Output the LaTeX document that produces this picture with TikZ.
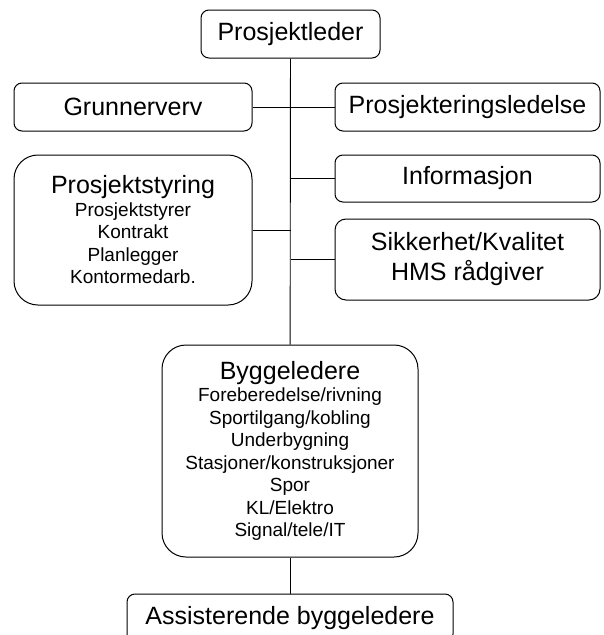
\documentclass[tikz,border=0pt]{standalone}
\usepackage{fontspec}
\setmainfont{Liberation Sans}
\usepackage{tikz}
\usetikzlibrary{positioning}
\newcommand{\bigtxt}{\fontsize{25}{30}\selectfont}
\newcommand{\smalltxt}{\fontsize{19}{22.5}\selectfont}

\begin{document}
\begin{tikzpicture}[x=1pt, y=-1pt,
box/.style={draw, line width=1pt, rounded corners=8pt, align=center,
font=\bigtxt, inner sep=0pt, minimum height=48pt},
bigbox/.style={box, rounded corners=24pt, font=\smalltxt},
line/.style={draw, line width=0.9pt}]
\useasboundingbox (0,0) rectangle (604,635);
\node [box, minimum width=179pt] (leder) at (290.5,34) {Prosjektleder};
\node [box, minimum width=238pt] (grunn) at (133,107) {Grunnerverv};
\node [box, minimum width=265pt] (prosj) at (467.5,107) {Prosjekteringsledelse};
\node [bigbox, minimum width=238pt, minimum height=150pt] (styr) at (133,230)
{{\bigtxt Prosjektstyring}\\ Prosjektstyrer\\ Kontrakt\\ Planlegger\\ Kontormedarb.};
\node [box, minimum width=265pt, minimum height=47pt] (info) at (467.5,178.5) {Informasjon};
\node [box, rounded corners=11pt, minimum width=265pt, minimum height=81pt] (sikk) at (467.5,259.5)
{Sikkerhet/Kvalitet\\ HMS rådgiver};
\node [bigbox, minimum width=256pt, minimum height=212pt] (bygg) at (290,451)
{{\bigtxt Byggeledere}\\ Foreberedelse/rivning\\ Sportilgang/kobling\\ Underbygning\\
Stasjoner/konstruksjoner\\ Spor\\ KL/Elektro\\ Signal/tele/IT};
\node [box, minimum width=326pt] (assist) at (290,618) {Assisterende byggeledere};
%% Trunk
\path [line] (leder) -- (bygg);
\path [line] (bygg) -- (assist);
%% Branches
\path [line] (grunn.east) -- (grunn.east -| leder.south);
\path [line] (styr.east) -- (styr.east -| leder.south);
\path [line] (prosj.west) -- (prosj.west -| leder.south);
\path [line] (info.west) -- (info.west -| leder.south);
\path [line] (sikk.west) -- (sikk.west -| leder.south);
\end{tikzpicture}
\end{document}
